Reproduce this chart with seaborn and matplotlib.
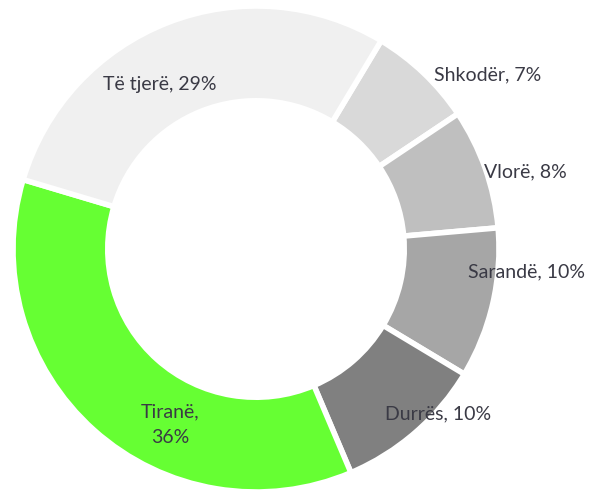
import matplotlib

matplotlib.use("Agg")
import matplotlib.pyplot as plt
import seaborn as sns

# Share of visitors by city (%), clockwise from the top-right
cities = ["Shkodër", "Vlorë", "Sarandë", "Durrës", "Tiranë", "Të tjerë"]
shares = [7, 8, 10, 10, 36, 29]
label_text = ["Shkodër, 7%", "Vlorë, 8%", "Sarandë, 10%", "Durrës, 10%",
              "Tiranë,\n36%", "Të tjerë, 29%"]
colors = ["#D9D9D9", "#BFBFBF", "#A6A6A6", "#808080", "#66FF33", "#F0F0F0"]

# label anchors (in units of the outer radius)
label_x = [0.955, 1.107, 1.115, 0.749, -0.354, -0.395]
label_y = [0.716, 0.317, -0.095, -0.679, -0.724, 0.675]

sns.set_theme(style="white")
plt.rcParams["font.family"] = ["Lato", "DejaVu Sans"]

fig = plt.figure(figsize=(5.89, 4.92), dpi=100)
ax = fig.add_axes([13 / 589, 0, 486 / 589, 486 / 492])
ax.pie(shares, colors=colors, startangle=59, counterclock=False, radius=1,
       wedgeprops=dict(width=0.39, edgecolor="white", linewidth=4))
for txt, x, y in zip(label_text, label_x, label_y):
    ax.text(x, y, txt, ha="center", va="center", fontsize=14,
            color="#3A3A45", linespacing=1.6)
ax.set_xlim(-1, 1)
ax.set_ylim(-1, 1)
ax.set_aspect("equal")
ax.axis("off")

fig.savefig("out.png", dpi=100)
